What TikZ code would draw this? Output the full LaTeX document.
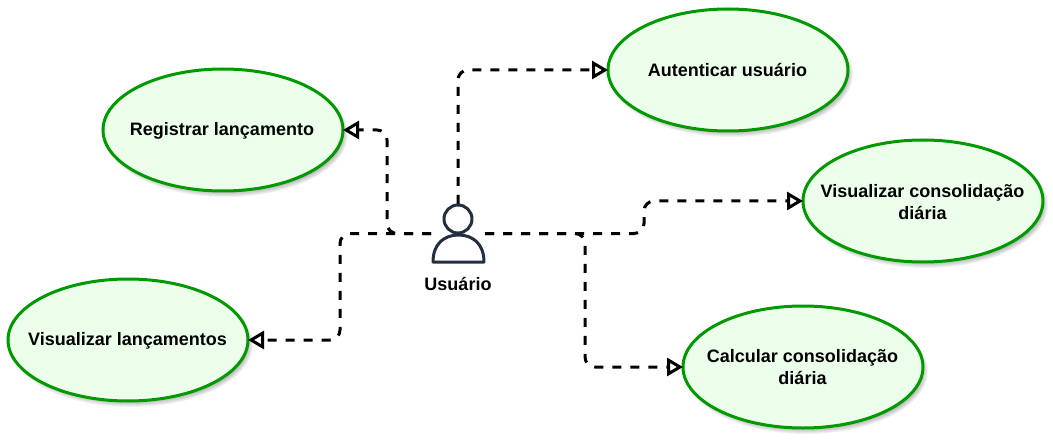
\documentclass[tikz,border=0pt]{standalone}
\usepackage{fontspec}
\setmainfont{Liberation Sans}
\usetikzlibrary{arrows.meta,shapes.geometric}
\definecolor{ucgreen}{HTML}{009900}
\definecolor{ucfill}{HTML}{EBFFEB}
\definecolor{actorc}{HTML}{232F3E}
\tikzset{
  usecase/.style={ellipse,draw=ucgreen,fill=ucfill,line width=3pt,minimum width=240pt,minimum height=122pt,inner sep=0pt,outer sep=0pt},
  uctext/.style={align=center,font=\fontsize{18}{22}\selectfont\bfseries,text=black,inner sep=0pt,outer sep=0pt},
  conn/.style={draw=black,line width=3pt,dash pattern=on 9pt off 9pt,rounded corners=10pt,-{Triangle[open,fill=white,length=16pt,width=18pt,line width=3pt]}},
  actorline/.style={draw=actorc,line width=3pt,fill=white,line join=round},
  actorbox/.style={minimum width=54pt,minimum height=59pt,inner sep=0pt,outer sep=0pt},
  lbl/.style={font=\fontsize{18}{22}\selectfont\bfseries,text=black,inner sep=0pt}
}
\newcommand{\softshadow}[1]{%
  \foreach \g in {0,...,5}{
    \fill[black,opacity=0.05] (#1)++(3,4) ellipse ({122-\g*1.0pt} and {63-\g*1.0pt});
  }}
\begin{document}
\begin{tikzpicture}[x=1pt,y=-1pt]
\useasboundingbox (0,0) rectangle (1053,441);
\softshadow{728,70}
\softshadow{223,130}
\softshadow{923,201}
\softshadow{803,367}
\softshadow{128,340}
\node[usecase] (auth) at (728,70) {};
\node[uctext] (authtext) at (727.5,70) {Autenticar usuário};
\node[usecase] (reg) at (223,130) {};
\node[uctext] (regtext) at (222,130.5) {Registrar lançamento};
\node[usecase] (vcons) at (923,201) {};
\node[uctext] (vconstext) at (922.5,202) {Visualizar consolidação\\diária};
\node[usecase] (ccons) at (803,367) {};
\node[uctext] (cconstext) at (802.5,367.5) {Calcular consolidação\\diária};
\node[usecase] (vlanc) at (128,340) {};
\node[uctext] (vlanctext) at (127.5,340.5) {Visualizar lançamentos};
\node[actorbox] (actor) at (458,233.5) {};
\node[lbl] (actorlabel) at (458,284) {Usuário};
\draw[conn] (actor.north) |- (auth.west);
\draw[conn] (actor.west) -- (387,233.5) -- (387,130) -- (reg.east);
\draw[conn] (actor.west) -- (340,233.5) -- (340,340) -- (vlanc.east);
\draw[conn] (actor.east) -- (644,233.5) -- (644,201) -- (vcons.west);
\draw[conn] (actor.east) -- (585,233.5) -- (585,367) -- (ccons.west);
\draw[actorline] (433,262) .. controls (433,244) and (444,235) .. (458.5,235) .. controls (473,235) and (484,244) .. (484,262) -- cycle;
\draw[actorline] (458,219) circle (14);
\end{tikzpicture}
\end{document}
